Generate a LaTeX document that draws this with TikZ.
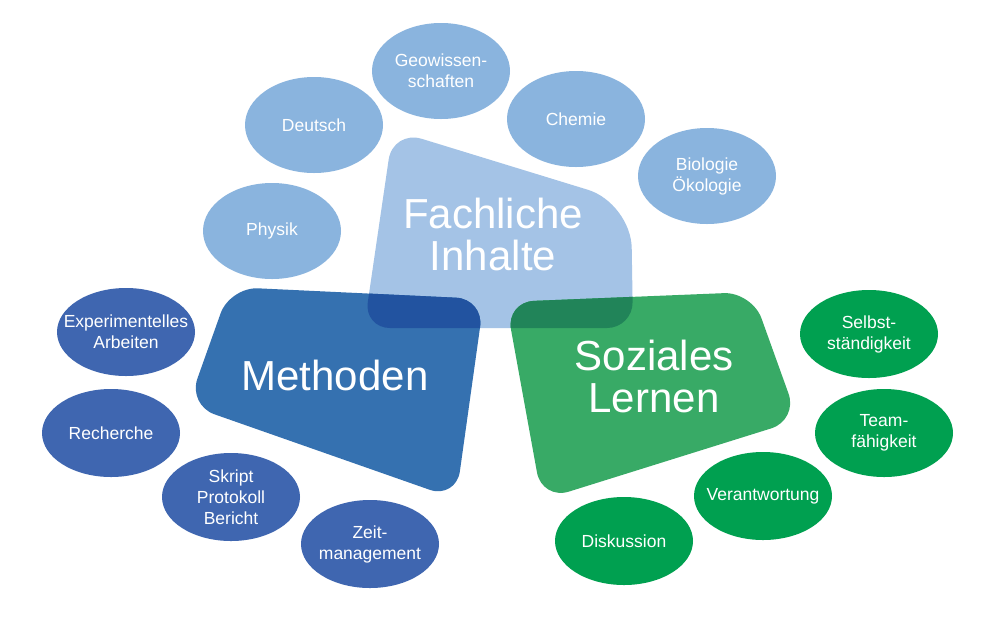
\documentclass[tikz,border=0pt]{standalone}
\usepackage{fontspec}
\setmainfont{Liberation Sans}
\usetikzlibrary{shapes.geometric}
\definecolor{lightell}{RGB}{138,180,222}
\definecolor{fachfill}{RGB}{164,195,230}
\definecolor{methfill}{RGB}{53,113,176}
\definecolor{methover}{RGB}{34,83,160}
\definecolor{darkell}{RGB}{63,102,176}
\definecolor{sozfill}{RGB}{56,170,102}
\definecolor{sozover}{RGB}{33,132,89}
\definecolor{greenell}{RGB}{0,160,80}
\def\fachpath{(500,328) [rounded corners=26pt] -- (364,328) [rounded corners=30pt] -- (393,130) [rounded corners=45pt] -- (631,203) [rounded corners=26pt] -- (633,328) -- cycle}
\def\methpath{(357,293) [rounded corners=28pt] -- (484,299) -- (456,499) -- (188,405) -- (230,287) -- cycle}
\def\sozpath{(629,297) [rounded corners=28pt] -- (752,292) -- (798,420) -- (542,500) -- (506,302) -- cycle}
\begin{document}
\begin{tikzpicture}[x=1pt,y=-1pt,
  ellbase/.style={ellipse, inner sep=0pt, minimum width=138pt},
  ellL/.style={ellbase, fill=lightell, minimum height=96pt},
  ellB/.style={ellbase, fill=darkell, minimum height=88pt},
  ellG/.style={ellbase, fill=greenell, minimum height=88pt},
  smalltxt/.style={text=white, align=center, inner sep=0pt, font=\fontsize{17.5}{21}\selectfont},
  bigtxt/.style={text=white, align=center, inner sep=0pt, font=\fontsize{42}{42}\selectfont}]
\useasboundingbox (0,0) rectangle (1000,630);
\fill[white] (0,0) rectangle (1000,630);

% main shapes
\fill[fachfill] \fachpath;
\fill[methfill] \methpath;
\fill[sozfill] \sozpath;
\begin{scope}
  \clip \fachpath;
  \fill[methover] \methpath;
  \fill[sozover] \sozpath;
\end{scope}

\node[bigtxt] (fachT) at (493,234) {Fachliche\\Inhalte};
\node[bigtxt] (methT) at (335,375) {Methoden};
\node[bigtxt] (sozT) at (654,376) {Soziales\\Lernen};

% light blue ellipses
\node[ellL] (geo) at (441,71) {};
\node[smalltxt] (geoT) at (geo) {Geowissen-\\schaften};
\node[ellL] (deu) at (314,125) {};
\node[smalltxt] (deuT) at (deu) {Deutsch};
\node[ellL] (che) at (576,119) {};
\node[smalltxt] (cheT) at (che) {Chemie};
\node[ellL] (bio) at (707,176) {};
\node[smalltxt] (bioT) at (bio) {Biologie\\Ökologie};
\node[ellL] (phy) at (272,231) {};
\node[smalltxt] (phyT) at (phy) {Physik};

% dark blue ellipses
\node[ellB] (exp) at (126,332) {};
\node[smalltxt] (expT) at (exp) {Experimentelles\\Arbeiten};
\node[ellB] (rec) at (111,433) {};
\node[smalltxt] (recT) at (rec) {Recherche};
\node[ellB] (skr) at (231,497) {};
\node[smalltxt] (skrT) at (skr) {Skript\\Protokoll\\Bericht};
\node[ellB] (zeit) at (370,544) {};
\node[smalltxt] (zeitT) at (zeit) {Zeit-\\management};

% green ellipses
\node[ellG] (selb) at (869,334) {};
\node[smalltxt] (selbT) at (selb) {Selbst-\\ständigkeit};
\node[ellG] (team) at (884,433) {};
\node[smalltxt] (teamT) at (team) {Team-\\fähigkeit};
\node[ellG] (ver) at (763,496) {};
\node[smalltxt] (verT) at (ver) {Verantwortung};
\node[ellG] (disk) at (624,541) {};
\node[smalltxt] (diskT) at (disk) {Diskussion};
\end{tikzpicture}
\end{document}
